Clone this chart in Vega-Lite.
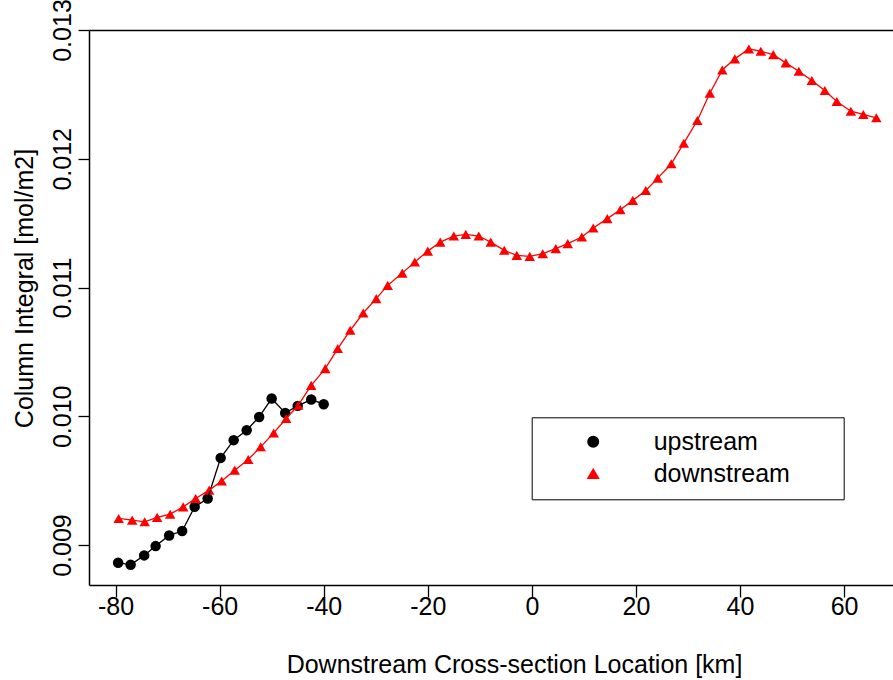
{
  "$schema": "https://vega.github.io/schema/vega-lite/v6.json",
  "width": 804,
  "height": 555,
  "autosize": {"type": "none"},
  "padding": {"left": 89, "top": 30, "right": 0, "bottom": 95},
  "background": "white",
  "config": {
    "view": {"stroke": null},
    "font": "Liberation Sans",
    "axis": {
      "grid": false,
      "domainColor": "black",
      "domainWidth": 1.5,
      "tickColor": "black",
      "tickWidth": 1.3,
      "labelColor": "black",
      "titleColor": "black",
      "labelFontSize": 25,
      "titleFontSize": 25,
      "titleFontWeight": "normal",
      "labelFont": "Liberation Sans",
      "titleFont": "Liberation Sans"
    },
    "legend": {
      "labelFont": "Liberation Sans"
    }
  },
  "data": {
    "values": [
      {"s": "upstream", "km": -79.5, "ci": 0.008863},
      {"s": "upstream", "km": -77.1, "ci": 0.008847},
      {"s": "upstream", "km": -74.5, "ci": 0.00892},
      {"s": "upstream", "km": -72.3, "ci": 0.008992},
      {"s": "upstream", "km": -69.7, "ci": 0.009075},
      {"s": "upstream", "km": -67.2, "ci": 0.009109},
      {"s": "upstream", "km": -64.8, "ci": 0.009297},
      {"s": "upstream", "km": -62.3, "ci": 0.009362},
      {"s": "upstream", "km": -59.8, "ci": 0.009677},
      {"s": "upstream", "km": -57.3, "ci": 0.009815},
      {"s": "upstream", "km": -54.8, "ci": 0.009892},
      {"s": "upstream", "km": -52.4, "ci": 0.009995},
      {"s": "upstream", "km": -50.0, "ci": 0.010138},
      {"s": "upstream", "km": -47.4, "ci": 0.010026},
      {"s": "upstream", "km": -45.0, "ci": 0.010081},
      {"s": "upstream", "km": -42.4, "ci": 0.01013},
      {"s": "upstream", "km": -40.0, "ci": 0.010094},
      {"s": "downstream", "km": -79.4, "ci": 0.009207},
      {"s": "downstream", "km": -76.8, "ci": 0.009194},
      {"s": "downstream", "km": -74.4, "ci": 0.009181},
      {"s": "downstream", "km": -72.0, "ci": 0.009215},
      {"s": "downstream", "km": -69.5, "ci": 0.00924},
      {"s": "downstream", "km": -67.0, "ci": 0.009297},
      {"s": "downstream", "km": -64.6, "ci": 0.009362},
      {"s": "downstream", "km": -62.0, "ci": 0.009427},
      {"s": "downstream", "km": -59.6, "ci": 0.009497},
      {"s": "downstream", "km": -57.1, "ci": 0.009582},
      {"s": "downstream", "km": -54.5, "ci": 0.009665},
      {"s": "downstream", "km": -52.1, "ci": 0.009763},
      {"s": "downstream", "km": -49.6, "ci": 0.009871},
      {"s": "downstream", "km": -47.2, "ci": 0.009983},
      {"s": "downstream", "km": -44.9, "ci": 0.010086},
      {"s": "downstream", "km": -42.4, "ci": 0.01024},
      {"s": "downstream", "km": -39.7, "ci": 0.01037},
      {"s": "downstream", "km": -37.3, "ci": 0.010526},
      {"s": "downstream", "km": -34.9, "ci": 0.010668},
      {"s": "downstream", "km": -32.4, "ci": 0.010802},
      {"s": "downstream", "km": -29.9, "ci": 0.010914},
      {"s": "downstream", "km": -27.7, "ci": 0.011017},
      {"s": "downstream", "km": -24.9, "ci": 0.011112},
      {"s": "downstream", "km": -22.5, "ci": 0.011198},
      {"s": "downstream", "km": -20.0, "ci": 0.011283},
      {"s": "downstream", "km": -17.6, "ci": 0.011353},
      {"s": "downstream", "km": -15.0, "ci": 0.0114},
      {"s": "downstream", "km": -12.7, "ci": 0.011413},
      {"s": "downstream", "km": -10.2, "ci": 0.0114},
      {"s": "downstream", "km": -7.9, "ci": 0.011353},
      {"s": "downstream", "km": -5.3, "ci": 0.011289},
      {"s": "downstream", "km": -2.9, "ci": 0.01125},
      {"s": "downstream", "km": -0.4, "ci": 0.011242},
      {"s": "downstream", "km": 2.1, "ci": 0.011263},
      {"s": "downstream", "km": 4.6, "ci": 0.011302},
      {"s": "downstream", "km": 6.9, "ci": 0.011341},
      {"s": "downstream", "km": 9.6, "ci": 0.011392},
      {"s": "downstream", "km": 11.8, "ci": 0.011463},
      {"s": "downstream", "km": 14.5, "ci": 0.011535},
      {"s": "downstream", "km": 17.0, "ci": 0.011604},
      {"s": "downstream", "km": 19.4, "ci": 0.011677},
      {"s": "downstream", "km": 21.9, "ci": 0.011754},
      {"s": "downstream", "km": 24.2, "ci": 0.01185},
      {"s": "downstream", "km": 26.8, "ci": 0.011961},
      {"s": "downstream", "km": 29.2, "ci": 0.012121},
      {"s": "downstream", "km": 31.8, "ci": 0.012297},
      {"s": "downstream", "km": 34.2, "ci": 0.012509},
      {"s": "downstream", "km": 36.6, "ci": 0.01269},
      {"s": "downstream", "km": 39.0, "ci": 0.012776},
      {"s": "downstream", "km": 41.7, "ci": 0.012853},
      {"s": "downstream", "km": 44.0, "ci": 0.012835},
      {"s": "downstream", "km": 46.4, "ci": 0.012809},
      {"s": "downstream", "km": 48.8, "ci": 0.012745},
      {"s": "downstream", "km": 51.3, "ci": 0.01268},
      {"s": "downstream", "km": 53.8, "ci": 0.012608},
      {"s": "downstream", "km": 56.3, "ci": 0.01253},
      {"s": "downstream", "km": 58.6, "ci": 0.012445},
      {"s": "downstream", "km": 61.3, "ci": 0.012369},
      {"s": "downstream", "km": 63.7, "ci": 0.012344},
      {"s": "downstream", "km": 66.2, "ci": 0.012318}
    ]
  },
  "layer": [
    {
      "mark": {"type": "point", "filled": true, "opacity": 1, "size": 110},
      "encoding": {
        "x": {
          "field": "km",
          "type": "quantitative",
          "scale": {"domain": [-85.1, 69.4], "nice": false, "zero": false},
          "axis": {
            "values": [-80, -60, -40, -20, 0, 20, 40, 60],
            "labelExpr": "'' + datum.value",
            "tickSize": 12,
            "labelPadding": 17,
            "labelBaseline": "alphabetic",
            "labelFlush": false,
            "labelOverlap": false,
            "title": "Downstream Cross-section Location [km]",
            "titleBaseline": "alphabetic",
            "titleAlign": "center",
            "titleX": 425,
            "titleY": 87
          }
        },
        "y": {
          "field": "ci",
          "type": "quantitative",
          "scale": {"domain": [0.00869, 0.013], "nice": false, "zero": false},
          "axis": {
            "values": [0.009, 0.01, 0.011, 0.012, 0.013],
            "format": ".3f",
            "tickSize": 11,
            "labelPadding": 8,
            "labelAngle": -90,
            "labelAlign": "center",
            "labelBaseline": "alphabetic",
            "labelOverlap": false,
            "labelFlush": false,
            "title": "Column Integral [mol/m2]",
            "titleAngle": -90,
            "titleBaseline": "alphabetic",
            "titleAlign": "center",
            "titleX": -56.5,
            "titleY": 258
          }
        },
        "color": {
          "field": "s",
          "type": "nominal",
          "scale": {"domain": ["upstream", "downstream"], "range": ["#000000", "#ff0000"]},
          "legend": {
            "title": null,
            "orient": "none",
            "legendX": 442.7,
            "legendY": 387.3,
            "strokeColor": "black",
            "fillColor": "white",
            "padding": 12,
            "rowPadding": 6,
            "labelFontSize": 25,
            "labelColor": "black",
            "symbolSize": 110,
            "symbolOffset": 37,
            "labelOffset": 48,
            "labelLimit": 400,
            "labelExpr": "datum.label + '      \u200b'"
          }
        },
        "shape": {
          "field": "s",
          "type": "nominal",
          "scale": {"domain": ["upstream", "downstream"], "range": ["circle", "triangle-up"]},
          "legend": {
            "title": null,
            "orient": "none",
            "legendX": 442.7,
            "legendY": 387.3,
            "strokeColor": "black",
            "fillColor": "white",
            "padding": 12,
            "rowPadding": 6,
            "labelFontSize": 25,
            "labelColor": "black",
            "symbolSize": 110,
            "symbolOffset": 37,
            "labelOffset": 48,
            "labelLimit": 400,
            "labelExpr": "datum.label + '      \u200b'"
          }
        }
      }
    },
    {
      "mark": {"type": "line", "strokeWidth": 1.3},
      "encoding": {
        "x": {"field": "km", "type": "quantitative", "axis": null},
        "y": {"field": "ci", "type": "quantitative"},
        "color": {"field": "s", "type": "nominal"},
        "order": {"field": "km", "type": "quantitative"}
      }
    },
    {
      "mark": {"type": "rule", "opacity": 0},
      "encoding": {
        "x": {
          "field": "km",
          "type": "quantitative",
          "aggregate": "min",
          "axis": {
            "orient": "top",
            "labels": false,
            "ticks": false,
            "values": [],
            "title": null,
            "domain": true
          }
        }
      }
    }
  ],
  "resolve": {"axis": {"x": "independent"}}
}
